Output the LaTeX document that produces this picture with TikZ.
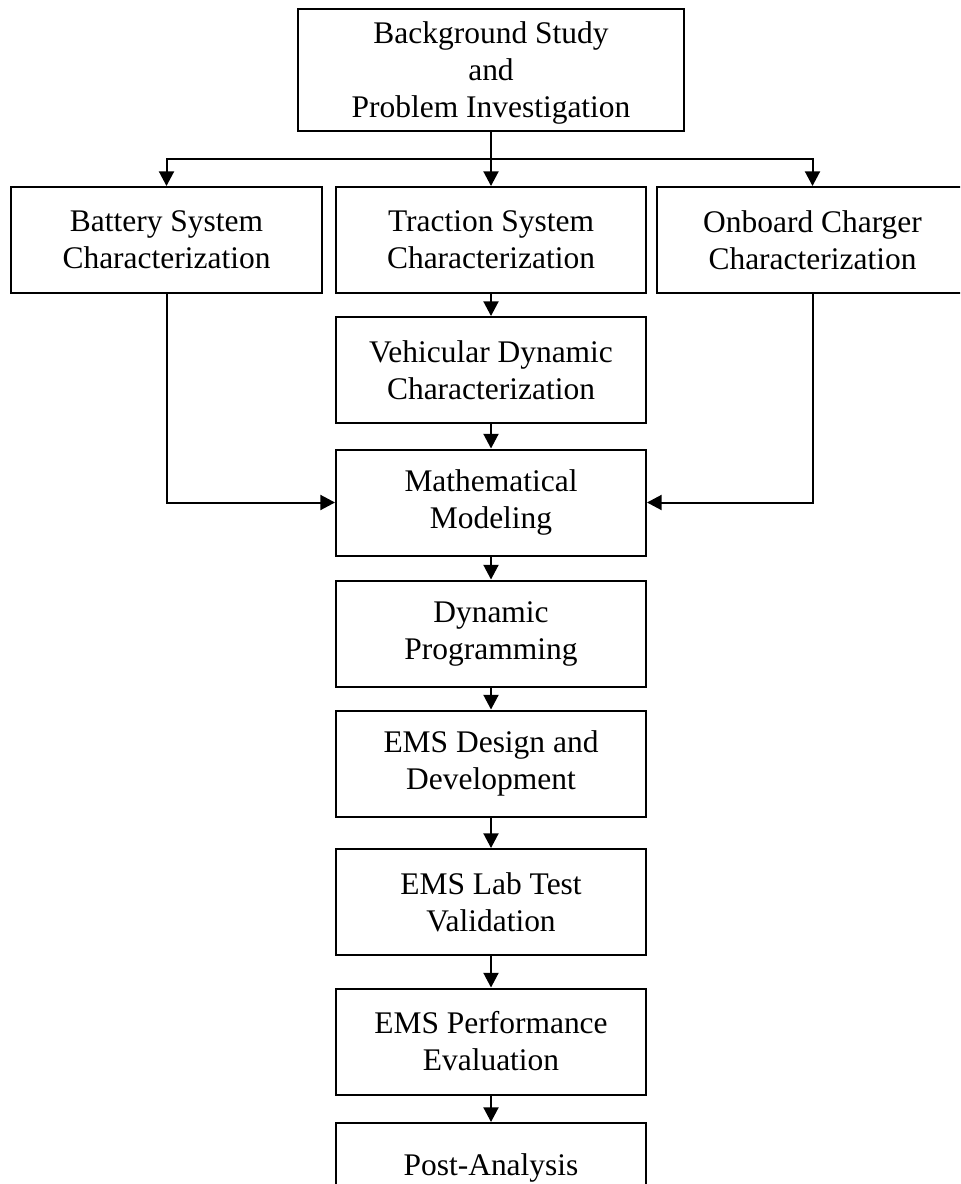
\documentclass[tikz,border=0pt]{standalone}
\usepackage{fontspec}
\setmainfont{Liberation Serif}
\usetikzlibrary{arrows.meta}
\begin{document}
\begin{tikzpicture}[x=0.75pt,y=-0.75pt,
  stage/.style={draw, line width=1.5pt, align=center, inner sep=0pt,
    minimum width=232.5pt, minimum height=79.5pt,
    font=\fontsize{23.6}{27.75}\selectfont},
  link/.style={line width=1.5pt, -{Triangle[length=11pt,width=11.25pt]}},
  wire/.style={line width=1.5pt}
]
\clip (0,0) rectangle (960,1184);

% stages of the study
\node[stage, minimum width=289.5pt, minimum height=91.5pt] (bg) at (491,70) {};
\node[font=\fontsize{23.6}{27.75}\selectfont, align=center, inner sep=0pt] (bgtext) at (491,73)
  {Background Study\\and\\Problem Investigation};
\node[stage, minimum width=233.25pt] (bat) at (166.5,240) {Battery System\\Characterization};
\node[stage] (tra) at (491,240) {Traction System\\Characterization};
\node[stage, minimum width=233.25pt] (obc) at (812.5,240) {Onboard Charger\\Characterization};
\node[stage] (veh) at (491,370) {Vehicular Dynamic\\Characterization};
\node[stage] (math) at (491,502.5) {Mathematical\\Modeling};
\node[stage] (dp) at (491,633.5) {Dynamic\\Programming};
\node[stage] (des) at (491,763.5) {EMS Design and\\Development};
\node[stage] (lab) at (491,902) {EMS Lab Test\\Validation};
\node[stage] (perf) at (491,1041.5) {EMS Performance\\Evaluation};
\node[stage, minimum height=67.5pt] (post) at (491,1168) {Post-Analysis};

% branching from the background study
\coordinate (split) at (491,159);
\draw[link] (bg) -- (tra);
\draw[link] (split) -| (bat.north);
\draw[link] (split) -| (obc.north);

% main chain
\draw[link] (tra) -- (veh);
\draw[link] (veh) -- (math);
\draw[link] (math) -- (dp);
\draw[link] (dp) -- (des);
\draw[link] (des) -- (lab);
\draw[link] (lab) -- (perf);
\draw[link] (perf) -- (post);

% side branches into the model
\draw[link] (bat.south) |- (math.west);
\draw[link] (obc.south) |- (math.east);
\end{tikzpicture}
\end{document}
